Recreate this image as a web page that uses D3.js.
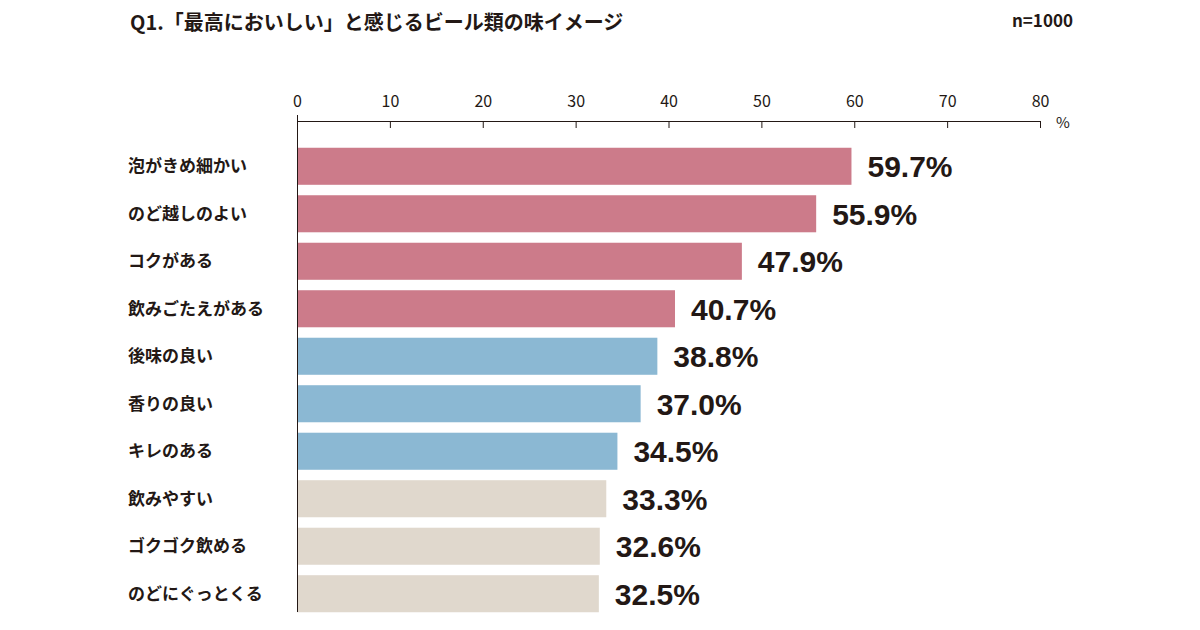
<!DOCTYPE html><html><head><meta charset="utf-8"><script src="https://cdn.jsdelivr.net/npm/d3@7"></script>
<style>body{margin:0;background:#fff}text{font-family:"Noto Sans CJK JP",sans-serif}</style></head><body>
<svg id="c" width="1200" height="630"></svg>
<script>
const categories=["泡がきめ細かい","のど越しのよい","コクがある","飲みごたえがある","後味の良い","香りの良い","キレのある","飲みやすい","ゴクゴク飲める","のどにぐっとくる"];
const values=[59.7,55.9,47.9,40.7,38.8,37.0,34.5,33.3,32.6,32.5];
const groups=[0,0,0,0,1,1,1,2,2,2];
const colors=["#cc7b8a","#8bb8d3","#e0d8cd"];
const ticks=[0,10,20,30,40,50,60,70,80];
const svg=d3.select("#c");
const x=d3.scaleLinear().domain([0,80]).range([297,1040]);
const y=d3.scaleBand().domain(categories).range([143,617]).paddingInner(0.22).paddingOuter(0.1);
svg.append("text").attr("x",130).attr("y",30).attr("font-size",20).attr("font-weight","bold").attr("fill","#231815").text("Q1.「最高においしい」と感じるビール類の味イメージ");
svg.append("text").attr("x",1073).attr("y",27).attr("text-anchor","end").attr("font-size",17).attr("font-weight","bold").attr("fill","#231815").text("n=1000");
const ax=svg.append("g").attr("transform","translate(0,121)").call(d3.axisTop(x).tickValues(ticks).tickSize(-7).tickPadding(14));
ax.select(".domain").attr("stroke","#231815");
ax.selectAll("line").attr("stroke","#231815");
ax.selectAll("text").attr("font-size",16).attr("fill","#231815").style("font-family","Noto Sans CJK JP");
svg.append("text").attr("x",1056).attr("y",128).attr("font-size",15).attr("fill","#231815").text("%");
svg.selectAll(".bar").data(values).join("rect").attr("x",x(0)).attr("y",(d,i)=>y(categories[i])).attr("width",d=>x(d)-x(0)).attr("height",y.bandwidth()).attr("fill",(d,i)=>colors[groups[i]]);
svg.append("line").attr("x1",297.5).attr("x2",297.5).attr("y1",115).attr("y2",612).attr("stroke","#231815");
svg.selectAll(".cat").data(categories).join("text").attr("x",128).attr("y",d=>y(d)+y.bandwidth()/2+6).attr("font-size",17).attr("font-weight","bold").attr("fill","#231815").text(d=>d);
svg.selectAll(".val").data(values).join("text").attr("x",d=>x(d)+16).attr("y",(d,i)=>y(categories[i])+y.bandwidth()/2+11).attr("font-size",30).attr("font-weight","bold").attr("fill","#231815").style("font-family","Liberation Sans, Arial").text(d=>d.toFixed(1)+"%");
</script></body></html>
